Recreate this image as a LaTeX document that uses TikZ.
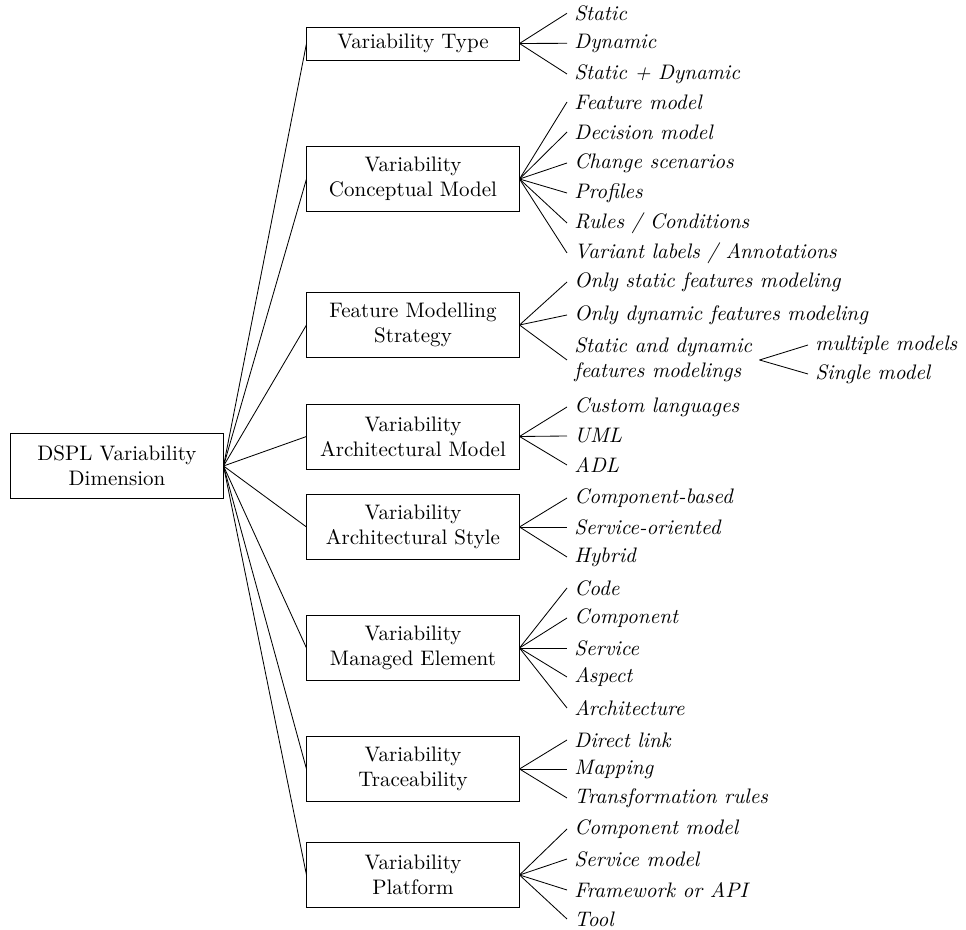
\documentclass[tikz,border=0pt]{standalone}
\usepackage{tikz}

\tikzset{
  dimbox/.style={draw, minimum width=101pt, minimum height=31pt, align=center},
  leaf/.style={anchor=west, font=\itshape},
}

\begin{document}
\begin{tikzpicture}[x=0.476pt, y=-0.476pt]
\useasboundingbox (0,0) rectangle (966,930);

\node[dimbox] (root) at (117,466) {DSPL Variability\\Dimension};

\node[dimbox, minimum height=15pt] (type) at (413,43.5) {Variability Type};
\node[dimbox] (concept) at (413,179) {Variability\\Conceptual Model};
\node[dimbox] (strategy) at (413,325) {Feature Modelling\\Strategy};
\node[dimbox] (archmodel) at (413,436.5) {Variability\\Architectural Model};
\node[dimbox] (archstyle) at (413,527) {Variability\\Architectural Style};
\node[dimbox] (element) at (413,648) {Variability\\Managed Element};
\node[dimbox] (trace) at (413,769) {Variability\\Traceability};
\node[dimbox] (platform) at (413,875) {Variability\\Platform};

\foreach \c in {type,concept,strategy,archmodel,archstyle,element,trace,platform}
  \draw (root.east) -- (\c.west);

% leaves of each dimension
\foreach \c/\y/\t in {type/13.3/Static, type/43.3/Dynamic, type/74/{Static + Dynamic},
    concept/102/Feature model, concept/132/Decision model, concept/163/Change scenarios,
    concept/193/Profiles, concept/223/{Rules / Conditions}, concept/253/{Variant labels / Annotations},
    strategy/282/Only static features modeling, strategy/315/Only dynamic features modeling,
    archmodel/407/Custom languages, archmodel/436/UML, archmodel/465/ADL,
    archstyle/498/Component-based, archstyle/527/Service-oriented, archstyle/557/Hybrid,
    element/588/Code, element/618/Component, element/648/Service, element/677/Aspect,
    element/708/Architecture,
    trace/740/Direct link, trace/769/Mapping, trace/798/Transformation rules,
    platform/829/Component model, platform/859/Service model, platform/890/Framework or API,
    platform/919/Tool}
{
  \node[leaf] (lf) at (567,\y) {\t};
  \draw (\c.east) -- (lf.west);
}

\node[leaf, align=left] (mixed) at (567,360) {Static and dynamic\\features modelings};
\draw (strategy.east) -- (mixed.west);
\node[leaf] (multi) at (808,345) {multiple models};
\node[leaf] (single) at (808,374) {Single model};
\draw (mixed.east) -- (multi.west);
\draw (mixed.east) -- (single.west);
\end{tikzpicture}
\end{document}
